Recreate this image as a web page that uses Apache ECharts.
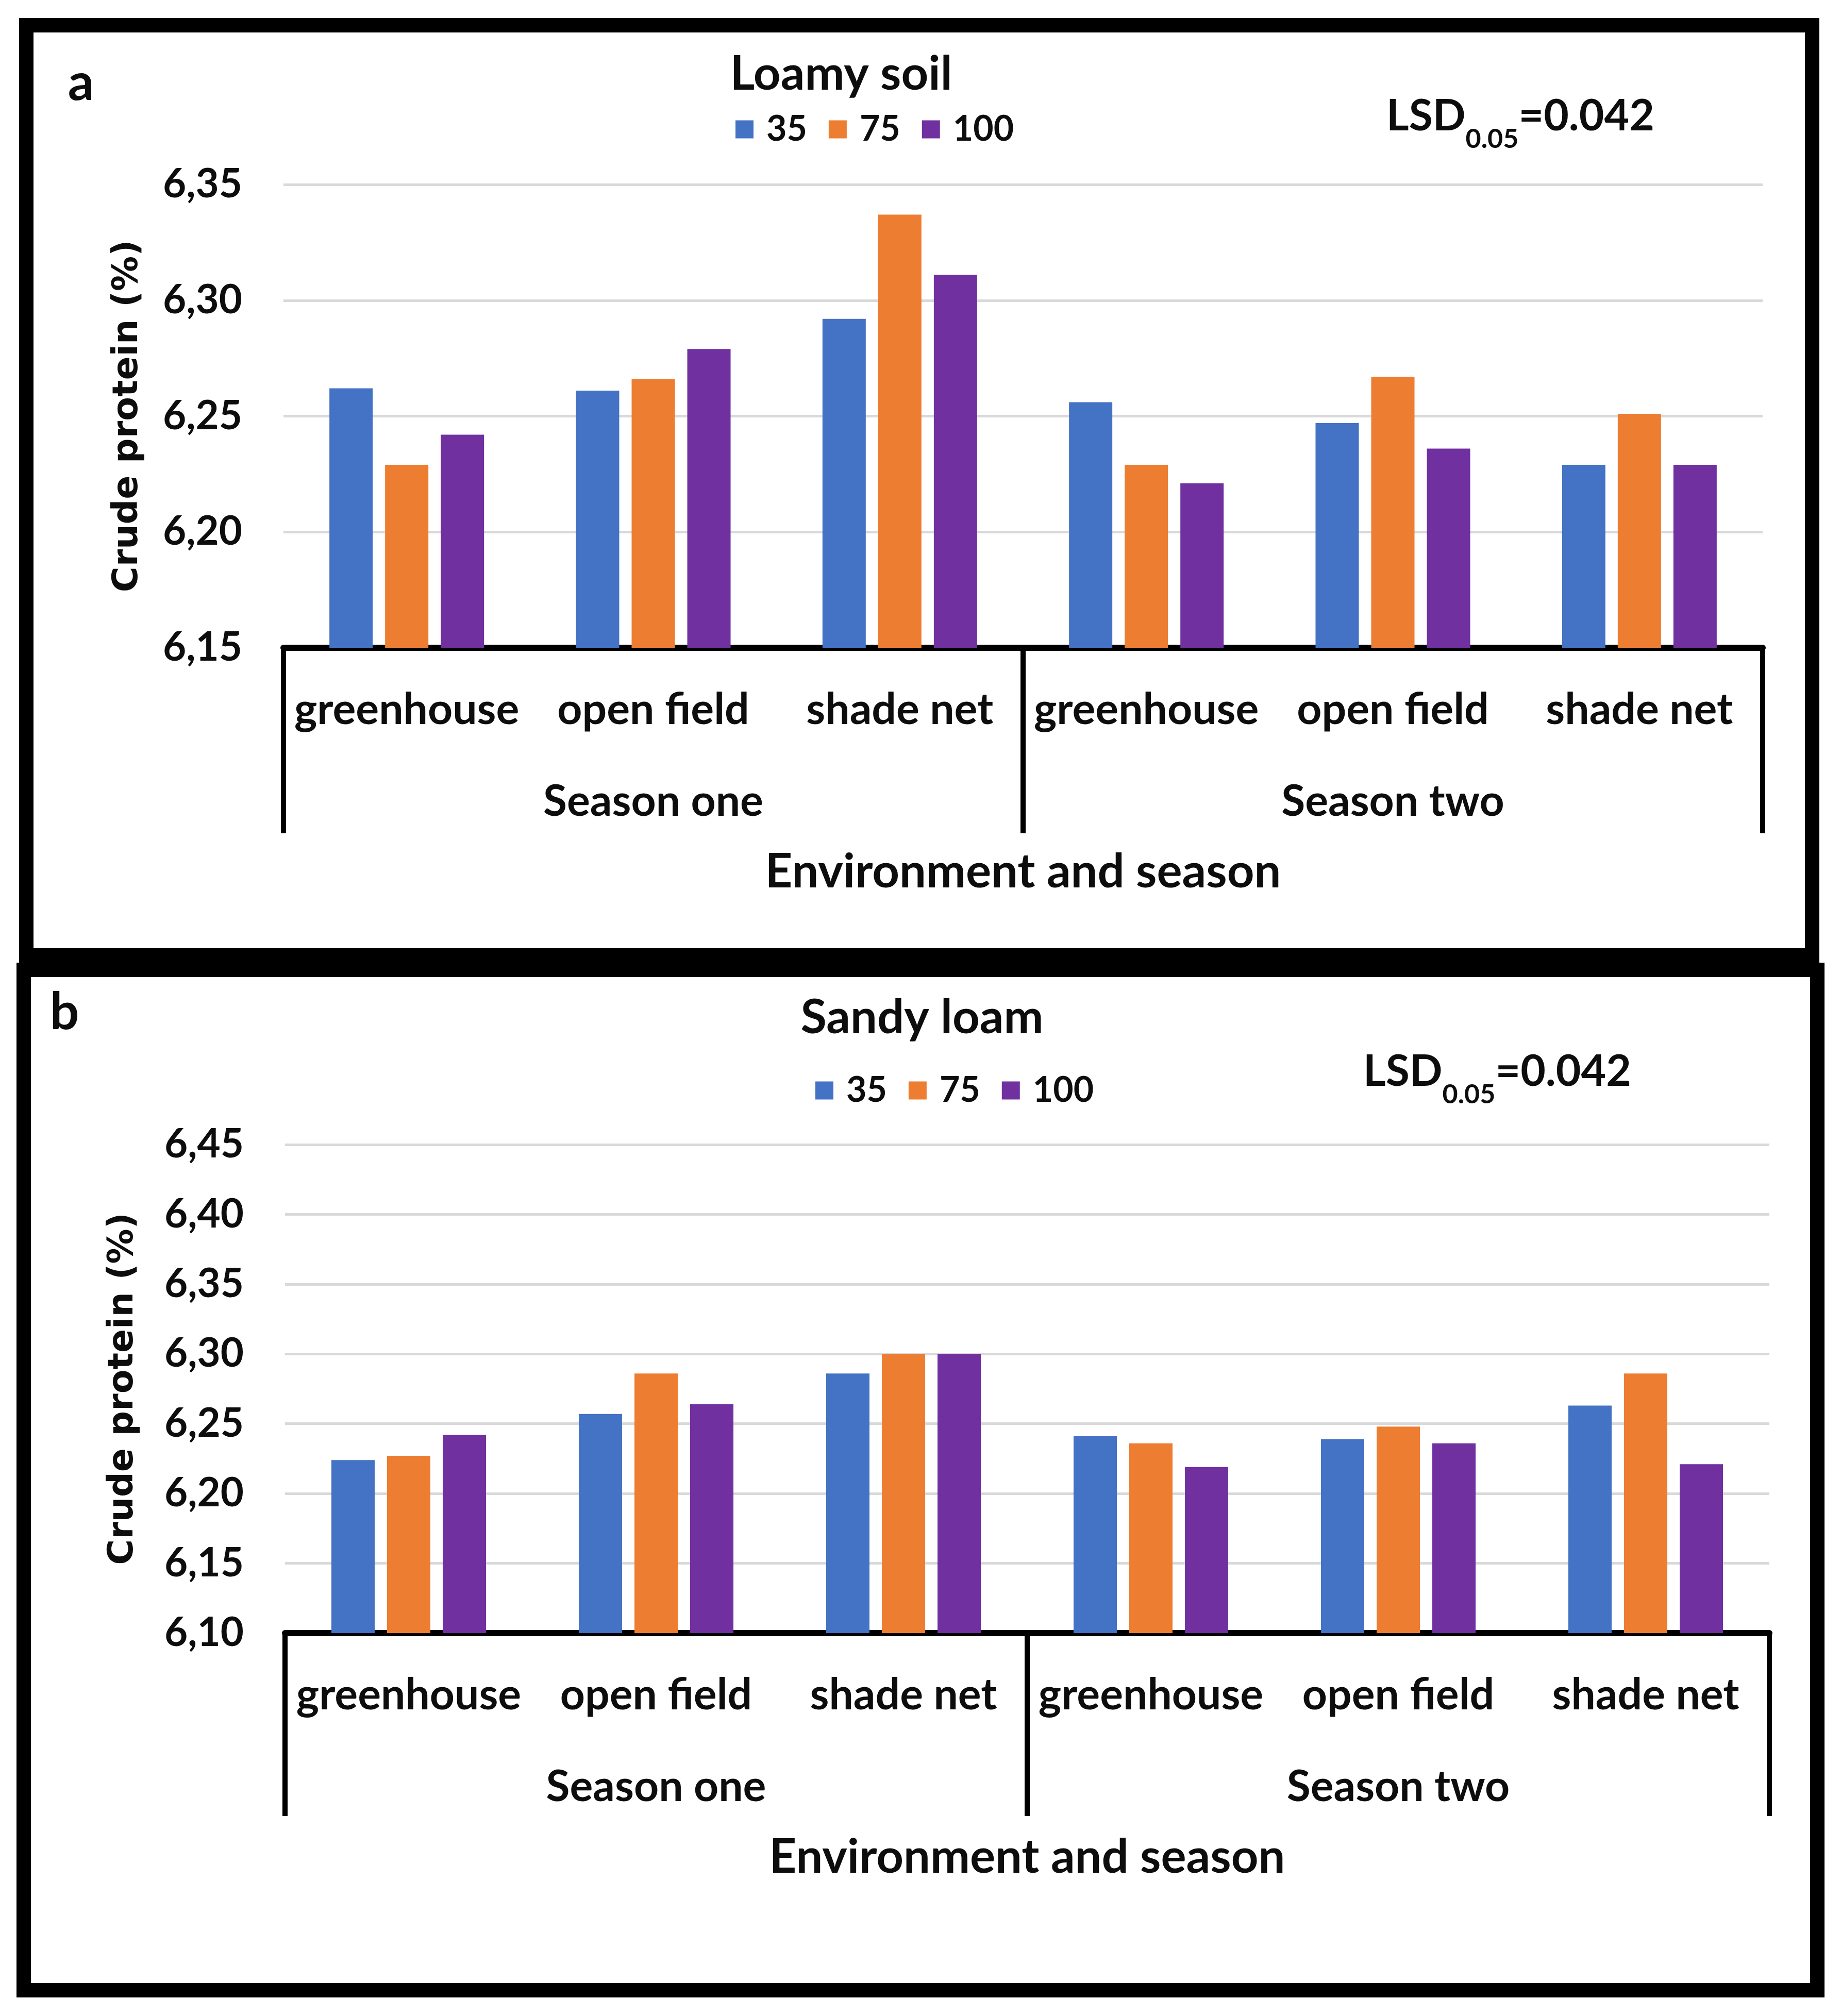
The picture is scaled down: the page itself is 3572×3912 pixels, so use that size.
<!DOCTYPE html>
<html>
<head>
<meta charset="utf-8">
<script src="https://cdn.jsdelivr.net/npm/echarts@6/dist/echarts.min.js"></script>
<style>
html,body{margin:0;padding:0;background:#fff;}
#chart{width:3572px;height:3912px;}
</style>
</head>
<body>
<div id="chart"></div>
<script>
const categories = ['greenhouse', 'open field', 'shade net', 'greenhouse', 'open field', 'shade net'];
const seasons = ['Season one', 'Season two'];
const seriesNames = ['35', '75', '100'];
const loamy35 = [6.262, 6.261, 6.292, 6.256, 6.247, 6.229];
const loamy75 = [6.229, 6.266, 6.337, 6.229, 6.267, 6.251];
const loamy100 = [6.242, 6.279, 6.311, 6.221, 6.236, 6.229];
const sandy35 = [6.224, 6.257, 6.286, 6.241, 6.239, 6.263];
const sandy75 = [6.227, 6.286, 6.300, 6.236, 6.248, 6.286];
const sandy100 = [6.242, 6.264, 6.300, 6.219, 6.236, 6.221];
const colors = ['#4472C4', '#ED7D31', '#7030A0'];

const FONT = 'Lato, "Open Sans", sans-serif';
const TXT = '#0d0d0d';

function fmt(v) { return v.toFixed(2).replace('.', ','); }

function envAxis(gi) {
  return {
    type: 'category', gridIndex: gi, data: categories, position: 'bottom',
    axisLine: { show: true, lineStyle: { color: '#000', width: 12 } },
    axisTick: { show: false },
    axisLabel: { interval: 0, margin: 76, fontFamily: FONT, fontWeight: 'bold', fontSize: 84, color: TXT, lineHeight: 90 },
    splitLine: { show: false }
  };
}
function seasonAxis(gi, tickLen) {
  return {
    type: 'category', gridIndex: gi, data: seasons, position: 'bottom', offset: 0,
    axisLine: { show: false },
    axisTick: { show: true, interval: 0, length: tickLen, lineStyle: { color: '#000', width: 10 } },
    axisLabel: { interval: 0, margin: 254, fontFamily: FONT, fontWeight: 'bold', fontSize: 84, color: TXT, lineHeight: 90 },
    name: 'Environment and season', nameLocation: 'middle', nameGap: 385,
    nameTextStyle: { fontFamily: FONT, fontWeight: 'bold', fontSize: 92, color: TXT, lineHeight: 100 },
    splitLine: { show: false }
  };
}
function valAxis(gi, min, max, gap) {
  return {
    type: 'value', gridIndex: gi, min: min, max: max, interval: 0.05,
    axisLine: { show: false }, axisTick: { show: false },
    axisLabel: { margin: 80, formatter: fmt, fontFamily: FONT, fontWeight: 'bold', fontSize: 78, color: TXT },
    splitLine: { show: true, lineStyle: { color: '#d9d9d9', width: 5 } },
    name: 'Crude protein (%)', nameLocation: 'middle', nameRotate: 90, nameGap: gap,
    nameTextStyle: { fontFamily: '"DejaVu Sans", sans-serif', fontWeight: 'bold', fontSize: 68, color: TXT }
  };
}
function bars(name, data, xi, yi, ci) {
  return {
    type: 'bar', name: name, data: data, xAxisIndex: xi, yAxisIndex: yi,
    barWidth: 84, barGap: '28.6%', itemStyle: { color: colors[ci] }, silent: true
  };
}
function lsd(x, y) {
  return {
    type: 'text', x: x, y: y,
    style: {
      text: '{a|LSD}{b|0.05}{a|=0.042}',
      textVerticalAlign: 'middle',
      rich: {
        a: { fontFamily: FONT, fontWeight: 'bold', fontSize: 84, fill: TXT, padding: [0, 0, 28, 0], verticalAlign: 'bottom' },
        b: { fontFamily: FONT, fontWeight: 'bold', fontSize: 52, fill: TXT, verticalAlign: 'bottom' }
      }
    }
  };
}
function label(txt, x, y, size) {
  return { type: 'text', x: x, y: y, style: { text: txt, fontFamily: FONT, fontWeight: 'bold', fontSize: size, fill: TXT, textAlign: 'center', textVerticalAlign: 'middle' } };
}

const chart = echarts.init(document.getElementById('chart'), null, { renderer: 'canvas' });
chart.setOption({
  animation: false,
  backgroundColor: '#ffffff',
  grid: [
    { left: 550, right: 152, top: 358, height: 899, containLabel: false },
    { left: 553, right: 139, top: 2221, height: 948, containLabel: false }
  ],
  xAxis: [envAxis(0), seasonAxis(0, 360), envAxis(1), seasonAxis(1, 355)],
  yAxis: [valAxis(0, 6.15, 6.35, 268), valAxis(1, 6.10, 6.45, 280)],
  legend: [
    { data: seriesNames, left: 1422, top: 212, icon: 'rect', itemWidth: 35, itemHeight: 35, itemGap: 42, selectedMode: false,
      textStyle: { fontFamily: FONT, fontWeight: 'bold', fontSize: 68, color: TXT, padding: [0, 0, 0, 20] } },
    { data: seriesNames, left: 1577, top: 2077, icon: 'rect', itemWidth: 35, itemHeight: 35, itemGap: 42, selectedMode: false,
      textStyle: { fontFamily: FONT, fontWeight: 'bold', fontSize: 68, color: TXT, padding: [0, 0, 0, 20] } }
  ],
  series: [
    bars(seriesNames[0], loamy35, 0, 0, 0),
    bars(seriesNames[1], loamy75, 0, 0, 1),
    bars(seriesNames[2], loamy100, 0, 0, 2),
    bars(seriesNames[0], sandy35, 2, 1, 0),
    bars(seriesNames[1], sandy75, 2, 1, 1),
    bars(seriesNames[2], sandy100, 2, 1, 2)
  ],
  graphic: [
    { type: 'rect', shape: { x: 51, y: 49, width: 3465, height: 1805 }, style: { fill: 'none', stroke: '#000', lineWidth: 28 }, z: 100 },
    { type: 'rect', shape: { x: 46, y: 1882, width: 3480, height: 1980 }, style: { fill: 'none', stroke: '#000', lineWidth: 28 }, z: 100 },
    label('a', 157, 162, 100),
    label('b', 125, 1965, 100),
    label('Loamy soil', 1632, 144, 92),
    label('Sandy loam', 1789, 1975, 92),
    lsd(2690, 240),
    lsd(2645, 2094)
  ]
});
</script>
</body>
</html>
